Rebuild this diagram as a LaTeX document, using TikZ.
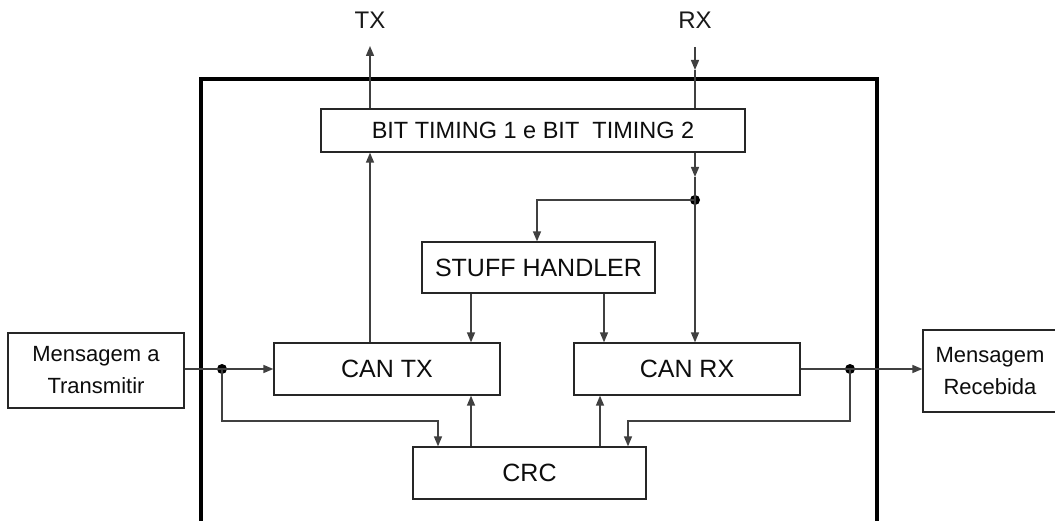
\documentclass[tikz,border=0pt]{standalone}
\usepackage{fontspec}
\setmainfont{Liberation Sans}
\usetikzlibrary{arrows.meta}
\begin{document}
\begin{tikzpicture}[x=1pt,y=-1pt,
  blk/.style={draw=black!85,line width=1.3pt,fill=white,inner sep=0pt,font=\fontsize{25}{29}\selectfont,text=black!95},
  btblk/.style={blk,font=\fontsize{23.5}{28}\selectfont},
  msg/.style={blk,align=center,font=\fontsize{22}{32}\selectfont},
  wire/.style={draw=black!75,line width=1.4pt},
  arr/.style={wire,-{Triangle[length=10pt,width=8pt]}},
  jdot/.style={circle,fill=black,inner sep=0pt,minimum size=10pt},
  lbl/.style={font=\fontsize{24}{28}\selectfont,text=black!90}]
\useasboundingbox (0,0) rectangle (1055,521);
\fill[white] (0,0) rectangle (1055,521);
% outer box
\draw[line width=3.4pt,black] (201,524) -- (201,79) -- (877,79) -- (877,524);
% blocks
\node[btblk,minimum width=424pt,minimum height=43pt] (bt) at (533,130.5) {BIT TIMING 1 e BIT\ \ TIMING 2};
\node[blk,minimum width=233pt,minimum height=51pt] (sh) at (538.5,267.5) {STUFF HANDLER};
\node[blk,minimum width=226pt,minimum height=52pt] (ctx) at (387,369) {CAN TX};
\node[blk,minimum width=226pt,minimum height=52pt] (crx) at (687,369) {CAN RX};
\node[blk,minimum width=233pt,minimum height=52pt] (crc) at (529.5,473) {CRC};
\node[msg,minimum width=176pt,minimum height=75pt] (mt) at (96,370.5) {Mensagem a\\Transmitir};
\node[msg,minimum width=134pt,minimum height=82pt] (mr) at (990,371) {Mensagem\\Recebida};
% labels
\node[lbl] (txl) at (370,20) {TX};
\node[lbl] (rxl) at (695,20) {RX};
% coordinates
\coordinate (txo) at (370,46);
\coordinate (rxi) at (695,47);
\coordinate (rxa) at (695,70);
\coordinate (bta) at (695,177);
\node[jdot] (dr) at (695,200) {};
\coordinate (sht) at (537,200);
\node[jdot] (dl) at (222,369) {};
\node[jdot] (d2) at (850,369) {};
\coordinate (l1) at (222,421);
\coordinate (l2) at (438,421);
\coordinate (r1) at (850,421);
\coordinate (r2) at (628,421);
% connectors
\draw[arr] (bt.north -| txo) -- (txo);
\draw[arr] (rxi) -- (rxa);
\draw[wire] (rxa) -- (bt.north -| rxa);
\draw[arr] (bt.south -| bta) -- (bta);
\draw[wire] (bta) -- (dr.center);
\draw[arr] (ctx.north -| txo) -- (bt.south -| txo);
\draw[arr] (dr.center) -- (crx.north -| dr);
\draw[arr] (dr.center) -- (sht) -- (sh.north -| sht);
\draw[arr] (sh.south -| 471,0) -- (ctx.north -| 471,0);
\draw[arr] (sh.south -| 604,0) -- (crx.north -| 604,0);
\draw[wire] (mt.east |- dl) -- (dl.center);
\draw[arr] (dl.center) -- (ctx.west |- dl);
\draw[arr] (dl.center) -- (l1) -- (l2) -- (crc.north -| l2);
\draw[arr] (crc.north -| 471,0) -- (ctx.south -| 471,0);
\draw[arr] (crc.north -| 600,0) -- (crx.south -| 600,0);
\draw[wire] (crx.east |- d2) -- (d2.center);
\draw[arr] (d2.center) -- (mr.west |- d2);
\draw[arr] (d2.center) -- (r1) -- (r2) -- (crc.north -| r2);
\end{tikzpicture}
\end{document}
